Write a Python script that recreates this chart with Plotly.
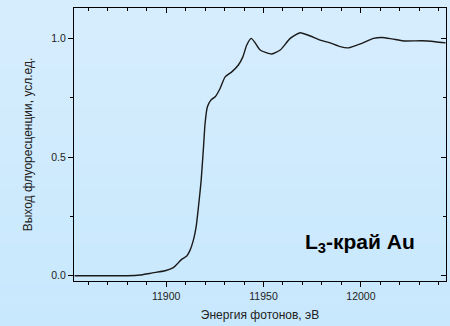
import plotly.graph_objects as go

# Au L3-edge fluorescence yield spectrum
energy_ev = [11853, 11860, 11870, 11880, 11886.6, 11893, 11899.5, 11903.7, 11906.3, 11908,
             11910.6, 11912.3, 11914, 11915.4, 11916.6, 11917.5, 11918, 11919.2, 11920,
             11921.2, 11923, 11925.2, 11927.7, 11930.3, 11933.7, 11937.1, 11939.4, 11941.4,
             11943.7, 11945.7, 11948.3, 11952.5, 11954.3, 11958.6, 11963.7, 11968.8, 11974,
             11979.1, 11984.2, 11989.4, 11993.6, 12000.5, 12006.5, 12010.8, 12015.9, 12022,
             12031.4, 12038.2, 12043.5]
fluo_yield = [0.0, 0.0, 0.0, 0.0, 0.003, 0.012, 0.021, 0.034, 0.055, 0.069,
              0.083, 0.108, 0.150, 0.206, 0.29, 0.361, 0.403, 0.543, 0.642,
              0.712, 0.740, 0.754, 0.789, 0.838, 0.859, 0.888, 0.922, 0.972,
              1.0, 0.981, 0.951, 0.937, 0.934, 0.951, 1.0, 1.024, 1.010,
              0.993, 0.981, 0.965, 0.960, 0.979, 1.0, 1.004, 0.998, 0.989,
              0.99, 0.986, 0.981]

x_range = [11852.7, 12043.7]
y_range = [-0.022, 1.128]

W, H = 450, 326
ML, MR, MT, MB = 74, 4, 8, 45
pw, ph = W - ML - MR, H - MT - MB

fig = go.Figure()
fig.add_trace(go.Scatter(x=energy_ev, y=fluo_yield, mode="lines",
                         line=dict(color="#1a1a1a", width=1.4, shape="spline", smoothing=0.6),
                         hoverinfo="skip", showlegend=False))
# invisible trace that carries the inside-ticked top/right axes
fig.add_trace(go.Scatter(x=x_range, y=y_range, xaxis="x2", yaxis="y2", mode="lines",
                         line=dict(width=0), opacity=0, hoverinfo="skip", showlegend=False))

# soft vertical background gradient across the whole page
top_c, bot_c = (0xD6, 0xED, 0xFD), (0xC8, 0xE8, 0xFD)
n = 24
x0p, x1p = -ML / pw, (W - ML) / pw
ytop, ybot = (H - MB) / ph, -MB / ph
for i in range(n):
    t = i / (n - 1)
    c = tuple(round(a + (b - a) * t) for a, b in zip(top_c, bot_c))
    ya = ytop - (ytop - ybot) * i / n
    yb = ytop - (ytop - ybot) * (i + 1) / n
    fig.add_shape(type="rect", xref="paper", yref="paper", x0=x0p, x1=x1p, y0=yb, y1=ya + 0.002,
                  fillcolor="rgb(%d,%d,%d)" % c, line=dict(width=0), layer="below")

FAM = "Liberation Sans, Arial, sans-serif"
axis_font = dict(family=FAM, size=10.5, color="#222222")
title_font = dict(family=FAM, size=12, color="#222222")
fig.update_layout(
    width=W, height=H,
    margin=dict(l=ML, r=MR, t=MT, b=MB),
    paper_bgcolor="#cfeafd",
    plot_bgcolor="rgba(0,0,0,0)",
    font=axis_font,
    xaxis=dict(range=x_range, dtick=50, tick0=11900, tickformat="d", ticks="outside", ticklen=5,
               tickcolor="black", showline=True, linecolor="black", linewidth=1, mirror=True,
               showgrid=False, zeroline=False, tickfont=axis_font,
               minor=dict(dtick=10, ticks="outside", ticklen=3, tickcolor="black"),
               title=dict(text="Энергия фотонов, эВ", standoff=10, font=title_font)),
    yaxis=dict(range=y_range, dtick=0.5, tick0=0, tickformat=".1f", ticks="outside", ticklen=5,
               tickcolor="black", showline=True, linecolor="black", linewidth=1, mirror=True,
               showgrid=False, zeroline=False, tickfont=axis_font,
               minor=dict(dtick=0.25, ticks="outside", ticklen=3, tickcolor="black"),
               title=dict(text="Выход флуоресценции, усл.ед.", standoff=16, font=title_font)),
    xaxis2=dict(range=x_range, overlaying="x", side="top", dtick=50, tick0=11900, ticks="inside",
                ticklen=5, tickcolor="black", showticklabels=False, showgrid=False, zeroline=False,
                minor=dict(dtick=10, ticks="inside", ticklen=3, tickcolor="black")),
    yaxis2=dict(range=y_range, overlaying="y", side="right", dtick=0.5, tick0=0, ticks="inside",
                ticklen=5, tickcolor="black", showticklabels=False, showgrid=False, zeroline=False,
                minor=dict(dtick=0.25, ticks="inside", ticklen=3, tickcolor="black")),
    annotations=[dict(text="L<sub>3</sub>-край Au", x=12029, y=0.14, xref="x", yref="y",
                      xanchor="right", yanchor="middle", showarrow=False,
                      font=dict(family=FAM, size=21, color="black", weight="bold"))],
)

fig.write_html("out.html")
